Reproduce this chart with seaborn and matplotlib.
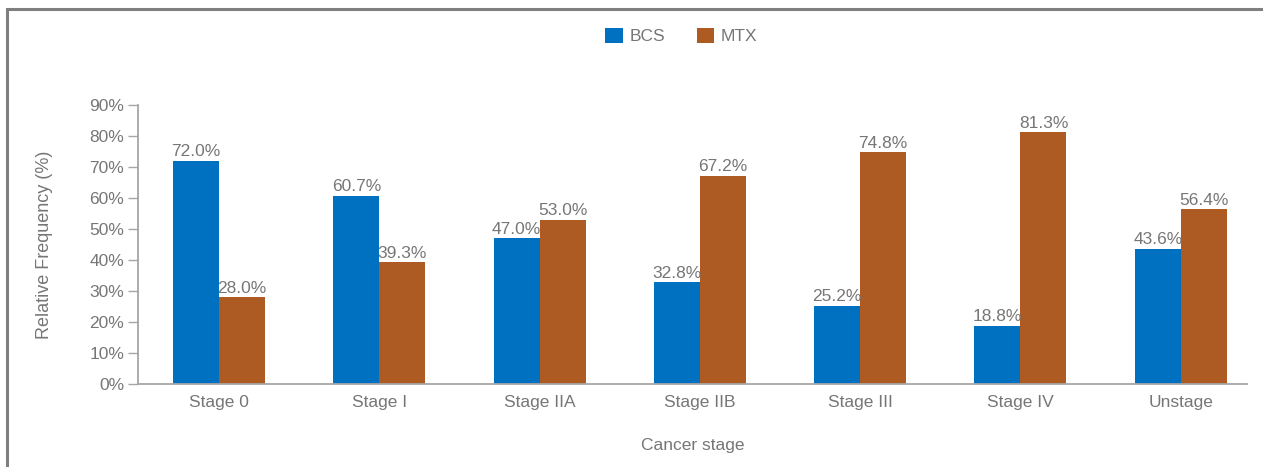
import numpy as np
import pandas as pd
import matplotlib
matplotlib.use('Agg')
import matplotlib.pyplot as plt
import seaborn as sns
from matplotlib.patches import Rectangle

stages = ['Stage 0', 'Stage I', 'Stage IIA', 'Stage IIB', 'Stage III', 'Stage IV', 'Unstage']
bcs = [72.0, 60.7, 47.0, 32.8, 25.2, 18.8, 43.6]
mtx = [28.0, 39.3, 53.0, 67.2, 74.8, 81.3, 56.4]
groups = ['BCS', 'MTX']
colors = ['#0071C1', '#AE5A23']
grey = '#767676'

df = pd.DataFrame({
    'stage': stages * 2,
    'group': ['BCS'] * len(stages) + ['MTX'] * len(stages),
    'value': bcs + mtx,
})

sns.set_style('white')
plt.rcParams['font.family'] = ['Liberation Sans', 'DejaVu Sans']

fig = plt.figure(figsize=(12.63, 4.67), dpi=100)
ax = fig.add_axes([0.1093, 0.1777, 0.878, 0.5975])

sns.barplot(data=df, x='stage', y='value', hue='group', hue_order=groups,
            palette=colors, width=0.574, gap=0, saturation=1, ax=ax,
            edgecolor='none', linewidth=0, legend=True)

for cont in ax.containers:
    ax.bar_label(cont, labels=[f'{v:.1f}%' for v in cont.datavalues],
                 padding=1, fontsize=12.5, color=grey)

ax.set_ylim(0, 90)
ax.set_xlim(-0.505, 6.413)
ax.set_yticks(np.arange(0, 91, 10))
ax.set_yticklabels([f'{t}%' for t in range(0, 91, 10)])
ax.tick_params(axis='y', length=7, width=1, color='#a6a6a6', labelsize=12.5,
               labelcolor=grey, pad=3, left=True)
ax.tick_params(axis='x', length=0, labelsize=12.5, labelcolor=grey, pad=8)
for s in ['top', 'right']:
    ax.spines[s].set_visible(False)
for s in ['left', 'bottom']:
    ax.spines[s].set_color('#a6a6a6')
    ax.spines[s].set_linewidth(1.3)

ax.set_xlabel('Cancer stage', fontsize=12.5, color=grey, labelpad=20)
ax.set_ylabel('Relative Frequency (%)', fontsize=13, color=grey, labelpad=26)

ax.legend(loc='center', bbox_to_anchor=(0.49, 1.247), ncol=2, frameon=False,
          fontsize=12.5, labelcolor=grey, handlelength=1.0, handleheight=1.0,
          handletextpad=0.4, columnspacing=1.8, title=None)

fig.patches.append(Rectangle((7 / 1263, -0.1), 1.2, 1 - 9 / 467 + 0.1,
                             transform=fig.transFigure, fill=False,
                             edgecolor='#7f7f7f', linewidth=2.2))

fig.savefig('out.png', dpi=100)
